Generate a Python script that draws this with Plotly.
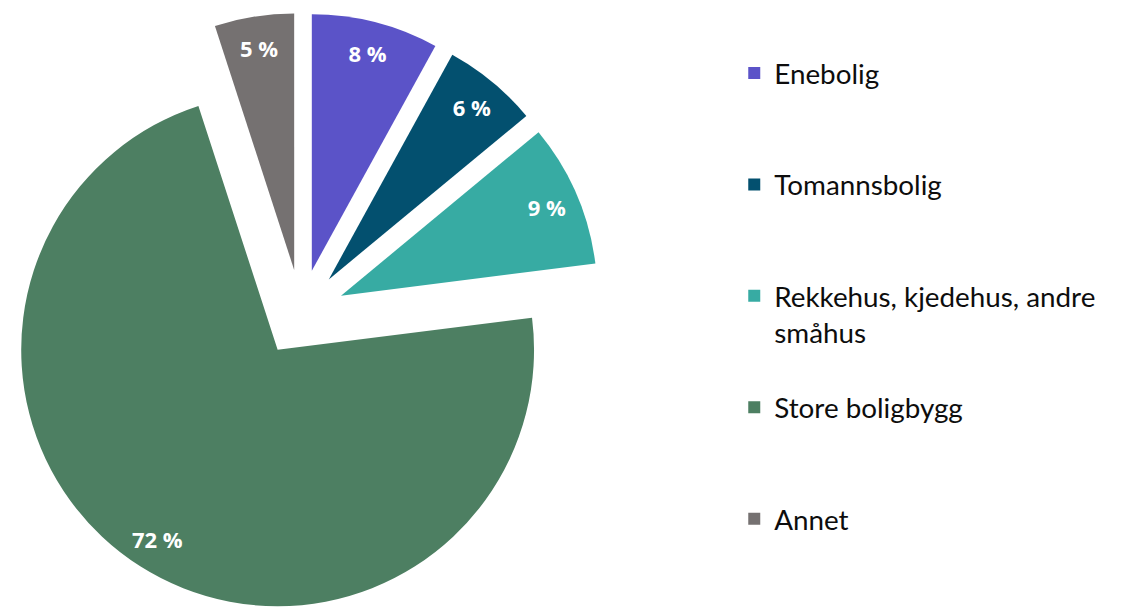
import plotly.graph_objects as go

categories = ["Enebolig", "Tomannsbolig", "Rekkehus, kjedehus, andre<br>småhus",
              "Store boligbygg", "Annet"]
values = [8, 6, 9, 72, 5]
colors = ["#5B53C8", "#03506F", "#37ABA3", "#4D7F62", "#757171"]

# pad labels to three lines so legend entries are evenly spaced
legend_labels = []
for c in categories:
    n = c.count("<br>") + 1
    legend_labels.append(c + "<br> " * (3 - n))

PULL = 0.17
DOMAIN = dict(x=[0, 0.537], y=[0, 0.9788])

fig = go.Figure()
# main pie (slices + legend)
fig.add_trace(go.Pie(
    labels=legend_labels,
    values=values,
    sort=False,
    direction="clockwise",
    rotation=0,
    pull=[PULL] * len(values),
    marker=dict(colors=colors, line=dict(width=0)),
    textinfo="none",
    domain=DOMAIN,
    hoverinfo="label+value",
))
# transparent ring overlay carrying the percentage labels near the rim
fig.add_trace(go.Pie(
    labels=legend_labels,
    values=values,
    sort=False,
    direction="clockwise",
    rotation=0,
    hole=0.75,
    pull=[PULL] * len(values),
    marker=dict(colors=["rgba(0,0,0,0)"] * len(values), line=dict(width=0)),
    texttemplate="%{value} %",
    textposition="inside",
    insidetextorientation="horizontal",
    textfont=dict(family="Open Sans", size=22, color="white", weight="bold"),
    domain=DOMAIN,
    showlegend=False,
    hoverinfo="skip",
))

fig.update_layout(
    width=1121, height=613,
    margin=dict(l=0, r=0, t=0, b=0, autoexpand=False),
    paper_bgcolor="white",
    plot_bgcolor="white",
    showlegend=True,
    legend=dict(
        x=0.655, y=0.921, xanchor="left", yanchor="top",
        valign="top",
        font=dict(family="Lato", size=27.8, color="#0d0d0d", weight=400),
        bgcolor="rgba(0,0,0,0)",
    ),
    uniformtext=dict(minsize=20, mode="show"),
)

fig.write_html(
    "out.html",
    config={"displayModeBar": False},
    post_script="document.body.style.margin='0';document.body.style.overflow='hidden';",
)
